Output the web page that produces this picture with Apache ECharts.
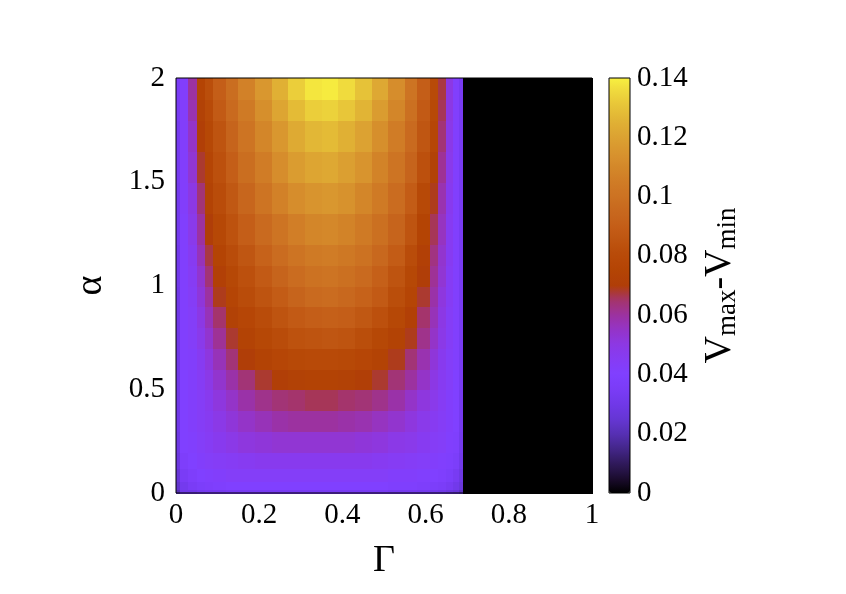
<!DOCTYPE html>
<html>
<head>
<meta charset="utf-8">
<script src="https://cdn.jsdelivr.net/npm/echarts@6/dist/echarts.min.js"></script>
<style>
html,body{margin:0;padding:0;background:#fff;}
#chart{width:846px;height:594px;}
</style>
</head>
<body>
<div id="chart"></div>
<script>
// Cell edges along Γ (x) and α (y)
const gammaEdges = [0, 0.01, 0.03, 0.05, 0.07, 0.09, 0.12, 0.15, 0.19, 0.23, 0.27, 0.31, 0.35, 0.39, 0.43, 0.47, 0.51, 0.55, 0.58, 0.61, 0.63, 0.65, 0.665, 0.68, 0.69, 1.0];
const alphaEdges = [0, 0.02, 0.06, 0.12, 0.2, 0.3, 0.4, 0.5, 0.6, 0.7, 0.8, 0.9, 1.0, 1.1, 1.2, 1.35, 1.5, 1.65, 1.8, 1.9, 2.0];

// V_max - V_min, one row per α band (bottom to top), one value per Γ band
const rowA01 = [0.02, 0.03, 0.03, 0.032, 0.033, 0.033, 0.034, 0.034, 0.034, 0.034, 0.034, 0.034, 0.034, 0.034, 0.034, 0.034, 0.033, 0.033, 0.032, 0.031, 0.03, 0.028, 0.026, 0.022, 0];
const rowA02 = [0.024, 0.032, 0.035, 0.037, 0.038, 0.039, 0.04, 0.04, 0.04, 0.04, 0.04, 0.04, 0.04, 0.04, 0.04, 0.04, 0.039, 0.039, 0.038, 0.037, 0.036, 0.034, 0.031, 0.027, 0];
const rowA03 = [0.026, 0.035, 0.038, 0.04, 0.041, 0.042, 0.043, 0.043, 0.043, 0.043, 0.043, 0.043, 0.043, 0.043, 0.043, 0.043, 0.042, 0.042, 0.041, 0.04, 0.039, 0.037, 0.034, 0.029, 0];
const rowA04 = [0.028, 0.038, 0.04, 0.042, 0.043, 0.044, 0.045, 0.046, 0.047, 0.047, 0.047, 0.047, 0.047, 0.047, 0.047, 0.046, 0.045, 0.044, 0.043, 0.042, 0.041, 0.039, 0.037, 0.031, 0];
const rowA05 = [0.029, 0.04, 0.041, 0.043, 0.045, 0.047, 0.049, 0.051, 0.052, 0.053, 0.053, 0.053, 0.053, 0.053, 0.052, 0.051, 0.049, 0.048, 0.046, 0.044, 0.043, 0.041, 0.039, 0.032, 0];
const rowA06 = [0.03, 0.04, 0.042, 0.044, 0.046, 0.049, 0.052, 0.055, 0.057, 0.059, 0.06, 0.06, 0.06, 0.059, 0.058, 0.056, 0.054, 0.051, 0.048, 0.046, 0.044, 0.042, 0.04, 0.033, 0];
const rowA07 = [0.03, 0.04, 0.042, 0.044, 0.047, 0.051, 0.055, 0.059, 0.062, 0.064, 0.065, 0.066, 0.066, 0.065, 0.064, 0.062, 0.059, 0.055, 0.051, 0.048, 0.045, 0.042, 0.04, 0.033, 0];
const rowA08 = [0.03, 0.04, 0.042, 0.045, 0.049, 0.054, 0.059, 0.064, 0.068, 0.071, 0.073, 0.074, 0.074, 0.073, 0.071, 0.068, 0.064, 0.06, 0.055, 0.05, 0.046, 0.043, 0.04, 0.034, 0];
const rowA09 = [0.03, 0.041, 0.042, 0.046, 0.051, 0.057, 0.064, 0.07, 0.074, 0.077, 0.079, 0.08, 0.08, 0.079, 0.077, 0.074, 0.069, 0.064, 0.058, 0.052, 0.047, 0.043, 0.041, 0.034, 0];
const rowA10 = [0.03, 0.041, 0.043, 0.048, 0.054, 0.061, 0.068, 0.074, 0.078, 0.081, 0.084, 0.085, 0.086, 0.085, 0.082, 0.078, 0.074, 0.069, 0.062, 0.055, 0.049, 0.044, 0.041, 0.034, 0];
const rowA11 = [0.03, 0.041, 0.043, 0.05, 0.057, 0.065, 0.073, 0.077, 0.081, 0.085, 0.088, 0.09, 0.091, 0.09, 0.087, 0.083, 0.078, 0.072, 0.065, 0.057, 0.05, 0.044, 0.041, 0.034, 0];
const rowA12 = [0.03, 0.041, 0.044, 0.052, 0.06, 0.069, 0.076, 0.081, 0.085, 0.089, 0.093, 0.096, 0.097, 0.095, 0.092, 0.088, 0.082, 0.076, 0.068, 0.059, 0.051, 0.045, 0.041, 0.034, 0];
const rowA13 = [0.031, 0.041, 0.045, 0.054, 0.064, 0.072, 0.078, 0.083, 0.088, 0.093, 0.097, 0.1, 0.101, 0.099, 0.096, 0.091, 0.085, 0.078, 0.07, 0.061, 0.053, 0.045, 0.041, 0.034, 0];
const rowA14 = [0.031, 0.041, 0.046, 0.057, 0.067, 0.075, 0.081, 0.086, 0.092, 0.097, 0.101, 0.104, 0.105, 0.103, 0.1, 0.095, 0.089, 0.081, 0.072, 0.063, 0.054, 0.046, 0.041, 0.034, 0];
const rowA15 = [0.032, 0.041, 0.048, 0.06, 0.07, 0.078, 0.084, 0.09, 0.096, 0.101, 0.106, 0.109, 0.11, 0.108, 0.104, 0.099, 0.093, 0.085, 0.075, 0.066, 0.056, 0.046, 0.041, 0.034, 0];
const rowA16 = [0.032, 0.042, 0.05, 0.064, 0.074, 0.081, 0.087, 0.094, 0.101, 0.107, 0.112, 0.115, 0.116, 0.114, 0.109, 0.104, 0.097, 0.089, 0.079, 0.069, 0.058, 0.047, 0.041, 0.034, 0];
const rowA17 = [0.033, 0.042, 0.053, 0.068, 0.076, 0.083, 0.09, 0.098, 0.105, 0.112, 0.118, 0.121, 0.122, 0.119, 0.115, 0.108, 0.101, 0.093, 0.083, 0.073, 0.061, 0.048, 0.041, 0.034, 0];
const rowA18 = [0.033, 0.042, 0.055, 0.071, 0.078, 0.085, 0.093, 0.101, 0.109, 0.116, 0.123, 0.127, 0.128, 0.125, 0.12, 0.113, 0.105, 0.096, 0.086, 0.077, 0.064, 0.049, 0.041, 0.034, 0];
const rowA19 = [0.034, 0.042, 0.058, 0.073, 0.08, 0.088, 0.096, 0.104, 0.113, 0.121, 0.128, 0.133, 0.134, 0.131, 0.126, 0.118, 0.109, 0.099, 0.088, 0.079, 0.066, 0.05, 0.041, 0.034, 0];
const rowA20 = [0.035, 0.042, 0.06, 0.075, 0.082, 0.09, 0.098, 0.107, 0.116, 0.125, 0.133, 0.138, 0.139, 0.136, 0.13, 0.122, 0.112, 0.101, 0.09, 0.08, 0.067, 0.05, 0.041, 0.034, 0];
const valueRows = [rowA01, rowA02, rowA03, rowA04, rowA05, rowA06, rowA07, rowA08, rowA09, rowA10,
                   rowA11, rowA12, rowA13, rowA14, rowA15, rowA16, rowA17, rowA18, rowA19, rowA20];

const xTicks = [0, 0.2, 0.4, 0.6, 0.8, 1];
const yTicks = [0, 0.5, 1, 1.5, 2];
const cbTicks = [0, 0.02, 0.04, 0.06, 0.08, 0.1, 0.12, 0.14];

// palette (evenly spaced from 0 to 0.14)
const palette = ['#000000', '#1c0c30', '#301a5c', '#44268a', '#5630b4', '#6636d4', '#7038e8', '#7a3cf6',
  '#8040ff', '#863cf4', '#8c38e4', '#9434c8', '#9c32a0', '#a4346c', '#b03e08', '#b44404', '#b84a08',
  '#be5410', '#c45e18', '#c8681e', '#cc7222', '#d07c26', '#d4882a', '#d8942e', '#dca232', '#e0b034',
  '#e6c238', '#eed63c', '#f8f040'];

const cells = [];
valueRows.forEach((row, j) => {
  row.forEach((v, i) => {
    cells.push([gammaEdges[i], gammaEdges[i + 1], alphaEdges[j], alphaEdges[j + 1], v]);
  });
});

const FONT = 'Liberation Serif';
const chart = echarts.init(document.getElementById('chart'), null, {renderer: 'canvas'});
chart.setOption({
  backgroundColor: '#ffffff',
  animation: false,
  textStyle: {fontFamily: FONT},
  grid: [
    {left: 176, top: 78, width: 416, height: 415, show: true, borderColor: '#000', borderWidth: 1, backgroundColor: 'transparent', z: 5},
    {left: 609, top: 78, width: 21, height: 415, show: true, borderColor: '#000', borderWidth: 1, backgroundColor: 'transparent', z: 10}
  ],
  xAxis: [
    {type: 'value', gridIndex: 0, min: xTicks[0], max: xTicks[xTicks.length - 1], interval: 0.2,
     axisLine: {show: false}, axisTick: {show: false}, splitLine: {show: false},
     axisLabel: {fontFamily: FONT, fontSize: 29, color: '#000', margin: 8},
     name: 'Γ', nameLocation: 'middle', nameGap: 49,
     nameTextStyle: {fontFamily: FONT, fontSize: 38, color: '#000'}},
    {type: 'value', gridIndex: 1, min: 0, max: 1, show: false}
  ],
  yAxis: [
    {type: 'value', gridIndex: 0, min: yTicks[0], max: yTicks[yTicks.length - 1], interval: 0.5,
     axisLine: {show: false}, axisTick: {show: false}, splitLine: {show: false},
     axisLabel: {fontFamily: FONT, fontSize: 29, color: '#000', margin: 11},
     name: 'α', nameLocation: 'middle', nameGap: 66, nameRotate: 90,
     nameTextStyle: {fontFamily: FONT, fontSize: 38, color: '#000'}},
    {type: 'value', gridIndex: 1, position: 'right', min: cbTicks[0], max: cbTicks[cbTicks.length - 1], interval: 0.02,
     axisLine: {show: false}, axisTick: {show: false}, splitLine: {show: false},
     axisLabel: {fontFamily: FONT, fontSize: 29, color: '#000', margin: 7},
     name: 'V{sub|max}-V{sub|min}', nameLocation: 'middle', nameGap: 70, nameRotate: 90,
     nameTextStyle: {fontFamily: FONT, fontSize: 38, color: '#000',
       rich: {sub: {fontFamily: FONT, fontSize: 27, color: '#000', padding: [14, 0, 0, 0]}}}}
  ],
  visualMap: {
    type: 'continuous', show: true, seriesIndex: 0, dimension: 4,
    min: 0, max: 0.14, calculable: false, hoverLink: false,
    left: 609, top: 78, itemWidth: 21, itemHeight: 415, padding: 0,
    text: null, showLabel: false,
    inRange: {color: palette}
  },
  series: [{
    type: 'custom',
    xAxisIndex: 0, yAxisIndex: 0,
    encode: {x: [0, 1], y: [2, 3]},
    data: cells,
    renderItem: function (params, api) {
      const p0 = api.coord([api.value(0), api.value(3)]);
      const p1 = api.coord([api.value(1), api.value(2)]);
      const x0 = Math.round(p0[0]), y0 = Math.round(p0[1]);
      const x1 = Math.round(p1[0]), y1 = Math.round(p1[1]);
      return {
        type: 'rect',
        shape: {x: x0, y: y0, width: x1 - x0 + 1, height: y1 - y0 + 1},
        style: {fill: api.visual('color'), stroke: null}
      };
    }
  }]
});
</script>
</body>
</html>
